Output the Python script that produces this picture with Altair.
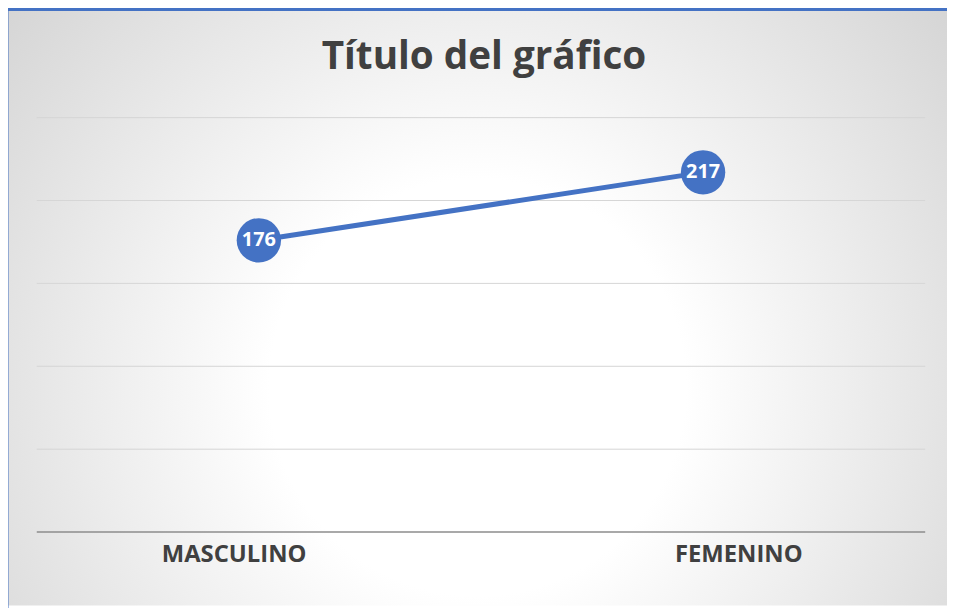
import altair as alt
import pandas as pd

# ---- data ----
categories = ["MASCULINO", "FEMENINO"]
values = [176, 217]
grid_values = [50, 100, 150, 200, 250]
baseline_values = [0]
title_text = "Título del gráfico"

W, H = 947, 600
BLUE = "#4472C4"
TEXT = "#404040"
FONT = "Open Sans"

df = pd.DataFrame({"cat": categories, "val": values})
grid_df = pd.DataFrame({"g": grid_values})
base_df = pd.DataFrame({"g": baseline_values})
one = pd.DataFrame({"a": [0]})

xscale = alt.Scale(type="point", domain=categories, range=[29, 925], padding=0.5)
yscale = alt.Scale(domain=[0, 250], range=[526, 108], nice=False, zero=False)

bg = alt.Chart(one).mark_rect(
    clip=True,
    color=alt.RadialGradient(
        gradient="radial",
        stops=[
            alt.GradientStop(offset=0, color="#ffffff"),
            alt.GradientStop(offset=0.25, color="#ffffff"),
            alt.GradientStop(offset=1, color="#bdbdbd"),
        ],
        x1=0.5, y1=0.5, r1=0, x2=0.5, y2=0.5, r2=0.6,
    )
).encode(x=alt.value(0), x2=alt.value(W), y=alt.value(-320), y2=alt.value(1080))

grid = alt.Chart(grid_df).mark_rule(color="#d6d6d6", strokeWidth=1).encode(
    y=alt.Y("g:Q", scale=yscale, axis=None), x=alt.value(29), x2=alt.value(925)
)
base = alt.Chart(base_df).mark_rule(color="#8c8c8c", strokeWidth=1.5).encode(
    y=alt.Y("g:Q", scale=yscale, axis=None), x=alt.value(29), x2=alt.value(925)
)

line = alt.Chart(df).mark_line(color=BLUE, strokeWidth=5).encode(
    x=alt.X("cat:N", scale=xscale, axis=None, sort=categories),
    y=alt.Y("val:Q", scale=yscale, axis=None),
)
pts = alt.Chart(df).mark_point(filled=True, color=BLUE, opacity=1, size=2000, shape="circle").encode(
    x=alt.X("cat:N", scale=xscale, axis=None, sort=categories),
    y=alt.Y("val:Q", scale=yscale, axis=None),
)
lbl = alt.Chart(df).mark_text(color="white", font=FONT, fontWeight="bold", fontSize=20,
                              baseline="middle", align="center").encode(
    x=alt.X("cat:N", scale=xscale, axis=None, sort=categories),
    y=alt.Y("val:Q", scale=yscale, axis=None),
    text="val:Q",
)

cat_lbl = alt.Chart(df).mark_text(color=TEXT, font=FONT, fontWeight="bold", fontSize=24,
                                  baseline="alphabetic", align="center").encode(
    x=alt.X("cat:N", scale=alt.Scale(type="point", domain=categories, range=[228, 737], padding=0),
            axis=None, sort=categories),
    y=alt.value(556),
    text="cat:N",
)

title = alt.Chart(one).mark_text(color=TEXT, font=FONT, fontWeight="bold", fontSize=39,
                                 baseline="alphabetic", align="center", text=title_text).encode(
    x=alt.value(480), y=alt.value(59)
)

border_top = alt.Chart(one).mark_rule(color=BLUE, strokeWidth=3).encode(
    x=alt.value(0), x2=alt.value(W), y=alt.value(-1)
)
border_left = alt.Chart(one).mark_rule(color=BLUE, strokeWidth=3).encode(
    x=alt.value(-1), y=alt.value(0), y2=alt.value(H + 10)
)

chart = alt.layer(
    bg, grid, base, line, pts, lbl, cat_lbl, title, border_top, border_left
).resolve_scale(x="independent").properties(
    width=W, height=H, padding=0,
    autosize=alt.AutoSizeParams(type="none"),
).configure_view(strokeWidth=0)

chart.save("out.html", embed_options={"renderer": "svg", "actions": False})
